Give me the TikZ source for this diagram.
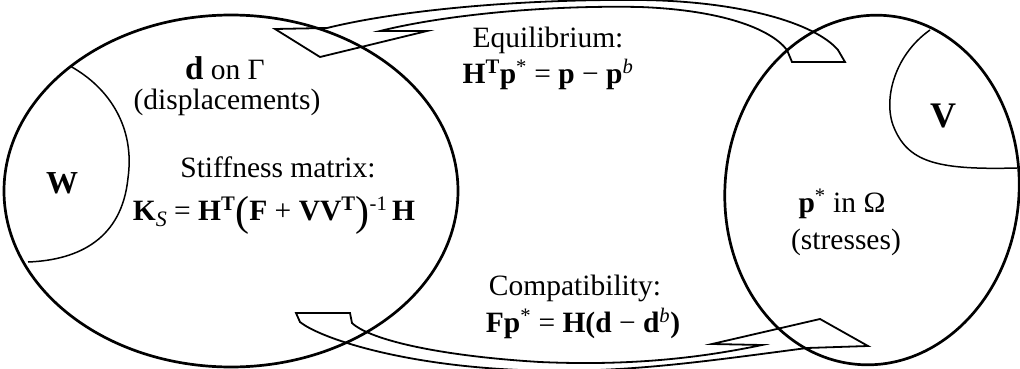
\documentclass[tikz,border=0pt]{standalone}
\usepackage{fontspec}
\setmainfont{Liberation Serif}
\newcommand\bt[1]{\textbf{#1}}
\newcommand\sps[1]{\textsuperscript{#1}}
\newcommand\bigpar[1]{\raisebox{-5pt}{\fontsize{42}{42}\selectfont #1}}
\tikzset{
  lbl/.style={anchor=base, inner sep=0pt, font=\fontsize{29.5}{32}\selectfont},
  region/.style={line width=2.7pt},
  subregion/.style={line width=1.5pt},
  flow/.style={line width=1.8pt, line join=miter},
}
\begin{document}
\begin{tikzpicture}[x=1pt,y=1pt]
\useasboundingbox (0,0) rectangle (1020,368);
\begin{scope}
\clip (0,0) rectangle (1020,368);
% top flow arrow (Equilibrium), tip at left
\coordinate (t1) at (275,339);
\coordinate (b1) at (320,311);
\coordinate (r1) at (427,337);
\coordinate (n1) at (380,337);
\draw[flow] (t1) -- (327,340) .. controls (400,358) and (520,369) .. (640,368)
  .. controls (740,367) and (815,345) .. (838,318) -- (845,306) -- (792,306) -- (787,318)
  .. controls (770,340) and (720,358) .. (640,361)
  .. controls (540,363) and (440,352) .. (n1) -- (r1) -- (b1) -- cycle;
% bottom flow arrow (Compatibility), tip at right
\coordinate (t2) at (868,22);
\coordinate (b2) at (820,49);
\coordinate (l2) at (712,24);
\coordinate (n2) at (762,23);
\draw[flow] (t2) -- (807,20) .. controls (700,6) and (620,-6) .. (520,-2)
  .. controls (400,3) and (320,30) .. (300,46) -- (296,55) -- (350,55) -- (352,45)
  .. controls (370,28) and (440,12) .. (540,6)
  .. controls (630,2) and (700,10) .. (n2) -- (l2) -- (b2) -- cycle;
% regions
\draw[region] (231,177) ellipse [x radius=227, y radius=176];
\draw[region, rotate around={-5:(872,178)}] (872,178) ellipse [x radius=147, y radius=175];
\draw[subregion] (70,302) .. controls (110,280) and (135,240) .. (128,190)
  .. controls (122,130) and (80,108) .. (28,106);
\draw[subregion] (930,338) .. controls (893,312) and (882,265) .. (895,238)
  .. controls (910,205) and (940,198) .. (1017,200);
\end{scope}
% labels
\node[lbl] (dG) at (225,289) {{\fontsize{33}{33}\selectfont\bt{d}} on Γ};
\node[lbl] (disp) at (227,259) {(displacements)};
\node[lbl, font=\fontsize{32}{32}\selectfont] (W) at (62,175) {\bt{W}};
\node[lbl] (stiff) at (278,191) {Stiffness matrix:};
\node[lbl] (Ks) at (274,148) {\bt{K}\raisebox{-6pt}{\fontsize{22}{22}\selectfont\textit{S}} = \bt{H}\sps{\bt{T}}\bigpar{(}\bt{F} + \bt{VV}\sps{\bt{T}}\bigpar{)}\sps{-1}\,\bt{H}};
\node[lbl] (eq) at (548,321) {Equilibrium:};
\node[lbl] (eqf) at (548,285) {\bt{H}\sps{\bt{T}}\bt{p}\sps{*} = \bt{p} − \bt{p}\sps{\textit{b}}};
\node[lbl, font=\fontsize{36}{36}\selectfont] (V) at (943,241) {\bt{V}};
\node[lbl] (pO) at (842,156) {\bt{p}\sps{*} in Ω};
\node[lbl] (str) at (846,119) {(stresses)};
\node[lbl] (comp) at (575,73) {Compatibility:};
\node[lbl] (compf) at (583,36) {\bt{Fp}\sps{*} = \bt{H(d} − \bt{d}\sps{\textit{b}}\bt{)}};
\end{tikzpicture}
\end{document}
